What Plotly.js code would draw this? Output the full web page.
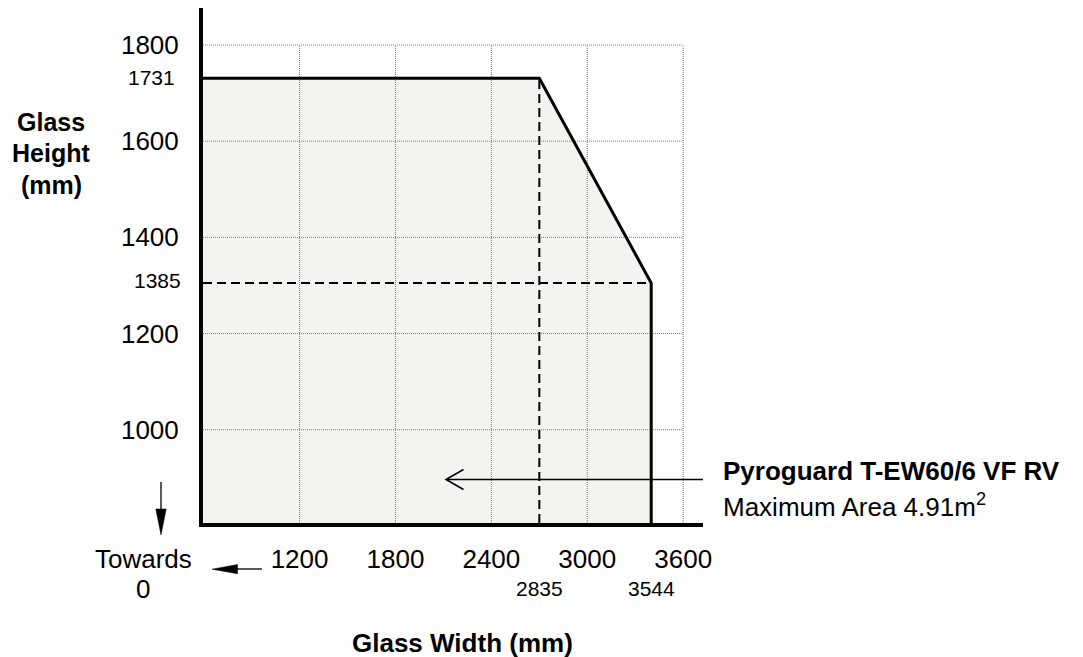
<!DOCTYPE html>
<html>
<head>
<meta charset="utf-8">
<script src="https://cdn.plot.ly/plotly-3.0.1.min.js"></script>
<style>html,body{margin:0;padding:0;background:#fff;}#chart{width:1083px;height:657px;}</style>
</head>
<body>
<div id="chart"></div>
<script>
// ---- data ----
const xTickVals = [1200, 1800, 2400, 3000, 3600];
const xTickText = ['1200', '1800', '2400', '3000', '3600'];
const yTickVals = [1000, 1200, 1400, 1600, 1800];
const yTickText = ['1000', '1200', '1400', '1600', '1800'];
// corner positions of the envelope (in axis units, as drawn) and their printed labels
const limitWidths = [2700, 3400];
const limitWidthLabels = ['2835', '3544'];
const limitHeights = [1731, 1305];
const limitHeightLabels = ['1731', '1385'];
const yTitleLines = ['Glass', 'Height', '(mm)'];
const xTitle = 'Glass Width (mm)';
const productName = 'Pyroguard T-EW60/6 VF RV';
const productArea = 'Maximum Area 4.91m<sup>2</sup>';

// ---- layout geometry ----
const W = 1083, H = 657;
const M = {l: 203, r: 380, t: 8, b: 134};
const PW = W - M.l - M.r, PH = H - M.t - M.b;
const xRange = [596, 3724];
const yRange = [806, 1877];
const px = p => (p - M.l) / PW;           // pixel x -> paper
const py = p => 1 - (p - M.t) / PH;       // pixel y -> paper
const FONT = 'Liberation Sans, Arial, Helvetica, sans-serif';

const x0 = xRange[0], y0 = yRange[0];
const xTop = xTickVals[xTickVals.length - 1], yTop = yTickVals[yTickVals.length - 1];

// envelope fill
const fillTrace = {
  x: [x0, x0, limitWidths[0], limitWidths[1], limitWidths[1]],
  y: [y0, limitHeights[0], limitHeights[0], limitHeights[1], y0],
  mode: 'lines', fill: 'toself', fillcolor: '#f4f3ef',
  line: {width: 0, color: 'rgba(0,0,0,0)'}, hoverinfo: 'skip'
};
// grid (limited to the tick range, like the original)
const gx = [], gy = [];
xTickVals.forEach(v => { gx.push(v, v, null); gy.push(y0, yTop, null); });
yTickVals.forEach(v => { gx.push(x0, xTop, null); gy.push(v, v, null); });
const gridTrace = {
  x: gx, y: gy, mode: 'lines', connectgaps: false,
  line: {color: '#7a7a7a', width: 1, dash: '1px,1px'}, hoverinfo: 'skip'
};
// dashed guide lines
const guideTrace = {
  x: [limitWidths[0], limitWidths[0], null, x0, limitWidths[1]],
  y: [y0, limitHeights[0], null, limitHeights[1], limitHeights[1]],
  mode: 'lines', connectgaps: false,
  line: {color: '#000', width: 2, dash: '9px,5px'}, hoverinfo: 'skip'
};
// envelope outline
const outlineTrace = {
  x: [x0, limitWidths[0], limitWidths[1], limitWidths[1]],
  y: [limitHeights[0], limitHeights[0], limitHeights[1], y0],
  mode: 'lines', line: {color: '#000', width: 3}, hoverinfo: 'skip'
};

const annotations = [];
const txt = (xp, yp, text, size, anchor) => ({xref: 'paper', yref: 'paper', x: xp, y: yp,
  xanchor: anchor || 'center', yanchor: 'middle', text: text, showarrow: false,
  font: {family: FONT, size: size, color: '#000'}});
// height labels
const hRight = [177, 183];
limitHeights.forEach((v, i) => annotations.push({
  xref: 'paper', yref: 'y', x: px(hRight[i]), y: v, xanchor: 'right', yanchor: 'middle',
  yshift: i === 1 ? 3 : 1,
  text: limitHeightLabels[i], showarrow: false, font: {family: FONT, size: 21, color: '#000'}
}));
// width labels
limitWidths.forEach((v, i) => annotations.push({
  xref: 'x', yref: 'paper', x: v, y: py(588), xanchor: 'center', yanchor: 'middle',
  text: limitWidthLabels[i], showarrow: false, font: {family: FONT, size: 21, color: '#000'}
}));
// Towards 0
annotations.push(txt(px(143), py(559), 'Towards', 26));
annotations.push(txt(px(143), py(589), '0', 26));
// axis titles
const yTitleY = [121.5, 153, 184.5];
yTitleLines.forEach((t, i) => annotations.push(txt(px(51), py(yTitleY[i]), '<b>' + t + '</b>', 25)));
annotations.push(txt(px(462), py(643), '<b>' + xTitle + '</b>', 26));
// product label
annotations.push(txt(px(721), py(471), '<b>' + productName + '</b>', 26, 'left'));
annotations.push(txt(px(721), py(505), productArea, 26, 'left'));

// arrows as shapes
const seg = (xa, ya, xb, yb, w) => ({type: 'line', xref: 'paper', yref: 'paper',
  x0: px(xa), y0: py(ya), x1: px(xb), y1: py(yb), line: {color: '#000', width: w}});
const poly = (pts, closed, w) => ({type: 'path', xref: 'paper', yref: 'paper',
  path: 'M' + pts.map(p => px(p[0]) + ',' + py(p[1])).join(' L') + (closed ? ' Z' : ''),
  fillcolor: closed ? '#000' : 'rgba(0,0,0,0)', line: {color: '#000', width: w}});
const shapes = [
  // pointer arrow towards the envelope
  seg(703, 479.5, 447, 479.5, 1.5), poly([[463.5, 469.5], [446, 479.5], [463.5, 489.5]], false, 1.6),
  // "towards 0" arrows
  seg(161, 482, 161, 512, 1.3), poly([[155.8, 509], [166.2, 509], [161, 535]], true, 0.5),
  seg(262, 569, 234, 569, 1.3), poly([[237.5, 564.6], [237.5, 573.8], [212, 569.2]], true, 0.5)
];

const axisFont = {family: FONT, size: 26, color: '#000'};
const layout = {
  width: W, height: H, margin: M, showlegend: false,
  paper_bgcolor: '#fff', plot_bgcolor: '#fff',
  xaxis: {range: xRange, showgrid: false, zeroline: false, showline: true, linecolor: '#000', linewidth: 4,
    tickmode: 'array', tickvals: xTickVals, ticktext: xTickText, ticks: '', tickfont: axisFont,
    ticklabelstandoff: 10, fixedrange: true},
  yaxis: {range: yRange, showgrid: false, zeroline: false, showline: true, linecolor: '#000', linewidth: 4,
    tickmode: 'array', tickvals: yTickVals, ticktext: yTickText, ticks: '', tickfont: axisFont,
    ticklabelstandoff: 15, fixedrange: true},
  annotations: annotations, shapes: shapes
};

Plotly.newPlot('chart', [fillTrace, gridTrace, guideTrace, outlineTrace], layout,
  {displayModeBar: false, staticPlot: true});
</script>
</body>
</html>
